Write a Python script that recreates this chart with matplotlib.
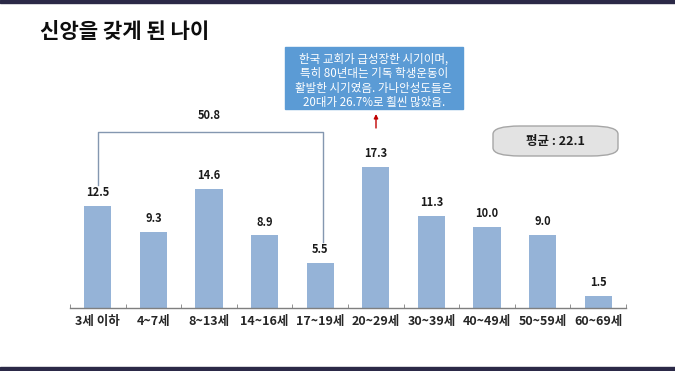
import matplotlib.pyplot as plt
from matplotlib.patches import Rectangle, FancyBboxPatch

plt.rcParams['font.family'] = ['Noto Sans CJK KR', 'DejaVu Sans']

# data
categories = ['3세 이하', '4~7세', '8~13세', '14~16세', '17~19세',
              '20~29세', '30~39세', '40~49세', '50~59세', '60~69세']
values = [12.5, 9.3, 14.6, 8.9, 5.5, 17.3, 11.3, 10.0, 9.0, 1.5]
bracket_total = 50.8   # sum of the first five groups
average_age = 22.1
callout = ('한국 교회가 급성장한 시기이며,\n특히 80년대는 기독 학생운동이\n'
           '활발한 시기였음. 가나안성도들은\n20대가 26.7%로 훨씬 많았음.')

W, H = 675, 371
fig = plt.figure(figsize=(W / 100, H / 100), dpi=100)
fig.patch.set_facecolor('white')

def fx(px):
    return px / W

def fy(py):
    return 1 - py / H

# dark bands top and bottom
fig.add_artist(Rectangle((0, fy(3)), 1, 3 / H, transform=fig.transFigure,
                         color='#2b2947', zorder=0))
fig.add_artist(Rectangle((0, 0), 1, 4 / H, transform=fig.transFigure,
                         color='#2b2947', zorder=0))

# title
fig.text(fx(40), fy(31), '신앙을 갖게 된 나이', fontsize=15.2, fontweight='bold',
         color='#0d0d0d', va='center', ha='left')

# bar chart
ax = fig.add_axes([fx(70), fy(308), fx(556), 244.5 / H])
x = list(range(len(categories)))
ax.bar(x, values, width=0.49, color='#95b3d7', zorder=2)
ax.set_xlim(-0.5, len(categories) - 0.5)
ax.set_ylim(0, 30)
for s in ['top', 'right', 'left']:
    ax.spines[s].set_visible(False)
ax.spines['bottom'].set_color('#7f7f7f')
ax.spines['bottom'].set_linewidth(1.0)
ax.set_yticks([])
ax.set_xticks(x)
ax.set_xticklabels(categories, fontsize=9, fontweight='bold', color='#262626')
ax.tick_params(axis='x', which='major', length=0, pad=5)
ax.set_xticks([i - 0.5 for i in range(len(categories) + 1)], minor=True)
ax.tick_params(axis='x', which='minor', direction='in', length=3,
               color='#7f7f7f')

for xi, v in zip(x, values):
    ax.annotate(f'{v:.1f}', (xi, v), xytext=(0, 5), textcoords='offset points',
                ha='center', va='bottom', fontsize=8, fontweight='bold',
                color='#1a1a1a')

# bracket over the first five groups
top = 21.6
ax.plot([0, 0, 4.05, 4.05], [values[0] + 2.6, top, top, values[4] + 2.6],
        color='#8497b0', lw=1.0, zorder=1)
ax.text(2.0, top + 1.2, f'{bracket_total:.1f}', ha='center', va='bottom',
        fontsize=8, fontweight='bold', color='#1a1a1a')

# callout box
fig.add_artist(Rectangle((fx(285), fy(109)), fx(178), 62 / H,
                         transform=fig.transFigure, color='#5b9bd5', zorder=3))
fig.text(fx(374), fy(81), callout, ha='center', va='center', fontsize=8.3,
         color='white', linespacing=1.15, zorder=4)
ax.annotate('', xy=(fx(376), fy(114)), xytext=(fx(376), fy(128)),
            xycoords='figure fraction', textcoords='figure fraction',
            annotation_clip=False,
            arrowprops=dict(arrowstyle='-|>', color='#c00000', lw=1.0,
                            mutation_scale=6, shrinkA=0, shrinkB=0))

# average badge
fig.add_artist(FancyBboxPatch((fx(493), fy(156)), fx(125), 30 / H,
                              boxstyle='round,pad=0,rounding_size=0.04',
                              transform=fig.transFigure, facecolor='#e3e3e3',
                              edgecolor='#a6a6a6', lw=1.0, zorder=3,
                              mutation_aspect=H / W * 1.0))
fig.text(fx(555), fy(141), f'평균 : {average_age}', ha='center', va='center',
         fontsize=9, fontweight='bold', color='#1a1a1a', zorder=4)

fig.savefig('out.png', dpi=100)
